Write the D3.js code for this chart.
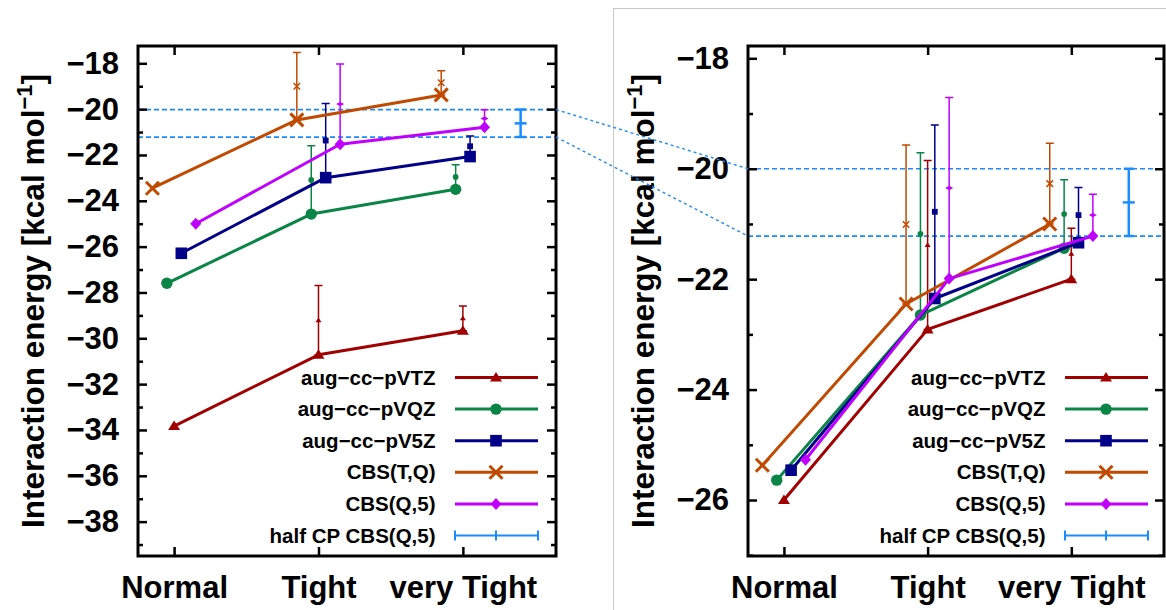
<!DOCTYPE html>
<html><head><meta charset="utf-8">
<script src="https://cdn.jsdelivr.net/npm/d3@7"></script>
<style>
body{margin:0;background:#fff;}
svg{display:block;}
text{font-family:"Liberation Sans",Arial,Helvetica,sans-serif;font-weight:bold;fill:#000;}
</style>
</head><body>
<svg id="c" width="1166" height="610"></svg>
<script>
const categories = ["Normal","Tight","very Tight"];
const seriesNames = ["aug−cc−pVTZ","aug−cc−pVQZ","aug−cc−pV5Z","CBS(T,Q)","CBS(Q,5)"];
const seriesColors = ["#a00000","#0a8545","#000088","#c04a00","#c000ff"];
const seriesSymbols = ["triangle","circle","square","x","diamond"];
const seriesShift = [0,-0.05,0.05,-0.15,0.15];
const halfCPName = "half CP CBS(Q,5)";
const halfCPColor = "#1a8cff";
const halfCPPos = 3.4;
const yTitle = "Interaction energy [kcal mol";

// ---- left panel ----
const leftValues = [
  [-33.83,-30.72,-29.67],
  [-27.60,-24.58,-23.50],
  [-26.29,-22.99,-22.07],
  [-23.45,-20.47,-19.38],
  [-25.00,-21.53,-20.79]];
const leftErrMid = [
  [null,-29.21,-29.13],
  [null,-23.09,-22.96],
  [null,-21.37,-21.62],
  [null,-19.00,-18.85],
  [null,-19.78,-20.41]];
const leftErrHalf = [
  [null,1.51,0.54],
  [null,1.49,0.53],
  [null,1.62,0.45],
  [null,1.47,0.53],
  [null,1.75,0.38]];
const leftHalfCP = [-20.62,0.60];
const leftYTicks = [-18,-20,-22,-24,-26,-28,-30,-32,-34,-36,-38];
const leftYDomain = [-39.5,-17.245];

// ---- right panel ----
const rightValues = [
  [-26.00,-22.91,-22.00],
  [-25.64,-22.65,-21.44],
  [-25.46,-22.35,-21.34],
  [-25.37,-22.45,-21.00],
  [-25.27,-21.99,-21.22]];
const rightErrMid = [
  [null,-21.38,-21.54],
  [null,-21.18,-20.82],
  [null,-20.78,-20.84],
  [null,-21.01,-20.27],
  [null,-20.35,-20.84]];
const rightErrHalf = [
  [null,1.53,0.46],
  [null,1.47,0.62],
  [null,1.57,0.50],
  [null,1.44,0.73],
  [null,1.64,0.38]];
const rightHalfCP = [-20.61,0.61];
const rightYTicks = [-18,-20,-22,-24,-26];
const rightYDomain = [-27.014,-17.777];

const xDomain = [0.75,3.645];

const svg = d3.select("#c");

// gray panel border of the right figure
svg.append("rect").attr("x",613.5).attr("y",8.5).attr("width",700).attr("height",700)
  .attr("fill","none").attr("stroke","#c8c8c8").attr("stroke-width",1);

function symbol(g, type, cx, cy, s, color){
  if(type==="triangle"){
    g.append("path").attr("d",`M${cx},${cy-5.5*s}L${cx+6*s},${cy+4*s}L${cx-6*s},${cy+4*s}Z`).attr("fill",color);
  } else if(type==="circle"){
    g.append("circle").attr("cx",cx).attr("cy",cy).attr("r",5.7*s).attr("fill",color);
  } else if(type==="square"){
    g.append("rect").attr("x",cx-5.8*s).attr("y",cy-5.8*s).attr("width",11.6*s).attr("height",11.6*s).attr("fill",color);
  } else if(type==="x"){
    const h=6.5*s;
    g.append("path").attr("d",`M${cx-h},${cy-h}L${cx+h},${cy+h}M${cx-h},${cy+h}L${cx+h},${cy-h}`)
      .attr("stroke",color).attr("stroke-width",Math.max(1.5,3*s)).attr("fill","none");
  } else if(type==="diamond"){
    const w=s<1?4:5.5, h=s<1?2.2:6;
    g.append("path").attr("d",`M${cx},${cy-h}L${cx+w},${cy}L${cx},${cy+h}L${cx-w},${cy}Z`).attr("fill",color);
  }
}

function errBar(g, x, mid, half, y, color, cap, sw){
  const yt=y(mid+half), yb=y(mid-half);
  g.append("path").attr("d",`M${x},${yt}L${x},${yb}M${x-cap/2},${yt}L${x+cap/2},${yt}M${x-cap/2},${yb}L${x+cap/2},${yb}`)
    .attr("stroke",color).attr("stroke-width",sw).attr("fill","none");
}

function panel(p){
  const x = d3.scaleLinear().domain(xDomain).range([p.x0,p.x1]);
  const y = d3.scaleLinear().domain(p.yDomain).range([p.y1,p.y0]);
  const g = svg.append("g");
  const clipId = "clip"+p.id;
  svg.append("clipPath").attr("id",clipId).append("rect")
    .attr("x",p.x0).attr("y",p.y0).attr("width",p.x1-p.x0).attr("height",p.y1-p.y0);
  const inner = g.append("g").attr("clip-path",`url(#${clipId})`);

  // half CP dashed reference lines
  const hc = p.halfCP;
  [hc[0]+hc[1], hc[0]-hc[1]].forEach(v=>{
    inner.append("line").attr("x1",p.x0).attr("x2",p.x1).attr("y1",y(v)).attr("y2",y(v))
      .attr("stroke",halfCPColor).attr("stroke-width",1.6).attr("stroke-dasharray","5,3");
  });

  // error bars
  seriesNames.forEach((n,si)=>{
    categories.forEach((c,ci)=>{
      const m=p.errMid[si][ci];
      if(m==null) return;
      const xx = x(ci+1+seriesShift[si]);
      errBar(inner, xx, m, p.errHalf[si][ci], y, seriesColors[si], 8, 1.5);
      symbol(inner, seriesSymbols[si], xx, y(m), 0.5, seriesColors[si]);
    });
  });
  // half CP error bar
  const hx = x(halfCPPos);
  errBar(inner, hx, hc[0], hc[1], y, halfCPColor, 10, 2.5);
  inner.append("line").attr("x1",hx-6).attr("x2",hx+6).attr("y1",y(hc[0])).attr("y2",y(hc[0]))
    .attr("stroke",halfCPColor).attr("stroke-width",2.5);

  // series lines and points
  const line = d3.line().x(d=>x(d[0])).y(d=>y(d[1]));
  seriesNames.forEach((n,si)=>{
    const pts = p.values[si].map((v,ci)=>[ci+1+seriesShift[si], v]);
    inner.append("path").attr("d",line(pts)).attr("fill","none")
      .attr("stroke",seriesColors[si]).attr("stroke-width",3).attr("stroke-linejoin","round");
    pts.forEach(d=>symbol(inner, seriesSymbols[si], x(d[0]), y(d[1]), 1, seriesColors[si]));
  });

  // legend
  const ly0 = 377.5, ldy = 31.6;
  const allNames = seriesNames.concat([halfCPName]);
  allNames.forEach((n,i)=>{
    const yy = ly0 + i*ldy;
    g.append("text").attr("x",p.x0+297.5).attr("y",yy).attr("dy","0.35em")
      .attr("text-anchor","end").style("font-size","20.5px").text(n);
    const lx1=p.x0+317, lx2=p.x0+400, mx=p.x0+358;
    if(i<seriesNames.length){
      g.append("line").attr("x1",lx1).attr("x2",lx2).attr("y1",yy).attr("y2",yy)
        .attr("stroke",seriesColors[i]).attr("stroke-width",3);
      symbol(g, seriesSymbols[i], mx, yy, 1, seriesColors[i]);
    } else {
      g.append("path").attr("d",`M${lx1},${yy}L${lx2},${yy}M${lx1},${yy-5}L${lx1},${yy+5}M${lx2},${yy-5}L${lx2},${yy+5}M${mx},${yy-5}L${mx},${yy+5}`)
        .attr("stroke",halfCPColor).attr("stroke-width",2).attr("fill","none");
    }
  });

  // ticks (inward on all sides)
  const minor = d3.range(Math.ceil(p.yDomain[0]), Math.floor(p.yDomain[1])+1).filter(v=>!p.yTicks.includes(v));
  const tk = (axis, tr)=>{
    const a = g.append("g").attr("transform",tr).call(axis);
    a.select(".domain").remove();
    a.selectAll("line").attr("stroke","#000").attr("stroke-width",2.5);
    a.selectAll("text").remove();
  };
  tk(d3.axisRight(y).tickValues(p.yTicks).tickSize(9), `translate(${p.x0},0)`);
  tk(d3.axisRight(y).tickValues(minor).tickSize(5), `translate(${p.x0},0)`);
  tk(d3.axisLeft(y).tickValues(p.yTicks).tickSize(9), `translate(${p.x1},0)`);
  tk(d3.axisLeft(y).tickValues(minor).tickSize(5), `translate(${p.x1},0)`);
  tk(d3.axisBottom(x).tickValues([1,2,3]).tickSize(9), `translate(0,${p.y0})`);
  tk(d3.axisTop(x).tickValues([1,2,3]).tickSize(9), `translate(0,${p.y1})`);

  // tick labels
  const ya = g.append("g").attr("transform",`translate(${p.x0},0)`)
    .call(d3.axisLeft(y).tickValues(p.yTicks).tickSize(0).tickPadding(19));
  ya.select(".domain").remove();
  ya.selectAll("text").style("font-size","31px").style("font-family",'"Liberation Sans",Arial,sans-serif').style("font-weight","bold").attr("fill","#000");
  const xa = g.append("g").attr("transform",`translate(0,${p.y1})`)
    .call(d3.axisBottom(x).tickValues([1,2,3]).tickSize(0).tickPadding(20).tickFormat((d,i)=>categories[i]));
  xa.select(".domain").remove();
  xa.selectAll("text").style("font-size","31px").style("font-family",'"Liberation Sans",Arial,sans-serif').style("font-weight","bold").attr("fill","#000");

  // frame
  g.append("rect").attr("x",p.x0).attr("y",p.y0).attr("width",p.x1-p.x0).attr("height",p.y1-p.y0)
    .attr("fill","none").attr("stroke","#000").attr("stroke-width",3);

  // y title
  const t = g.append("text").attr("transform",`translate(${p.titleX},301) rotate(-90)`)
    .attr("text-anchor","middle").style("font-size","31.5px");
  t.append("tspan").text(yTitle);
  t.append("tspan").attr("dy",-12).style("font-size","22px").text("−1");
  t.append("tspan").attr("dy",12).text("]");

  return {x,y};
}

const L = panel({id:"L", x0:138, x1:556, y0:46, y1:556, yDomain:leftYDomain, yTicks:leftYTicks,
  values:leftValues, errMid:leftErrMid, errHalf:leftErrHalf, halfCP:leftHalfCP, titleX:44});
const R = panel({id:"R", x0:748, x1:1164, y0:46, y1:556, yDomain:rightYDomain, yTicks:rightYTicks,
  values:rightValues, errMid:rightErrMid, errHalf:rightErrHalf, halfCP:rightHalfCP, titleX:654});

// dotted connectors between panels
[[leftHalfCP[0]+leftHalfCP[1], rightHalfCP[0]+rightHalfCP[1]],
 [leftHalfCP[0]-leftHalfCP[1], rightHalfCP[0]-rightHalfCP[1]]].forEach(([a,b])=>{
  svg.append("line").attr("x1",556).attr("y1",L.y(a)).attr("x2",748).attr("y2",R.y(b))
    .attr("stroke",halfCPColor).attr("stroke-width",1.4).attr("stroke-dasharray","3,3");
});
</script>
</body></html>
